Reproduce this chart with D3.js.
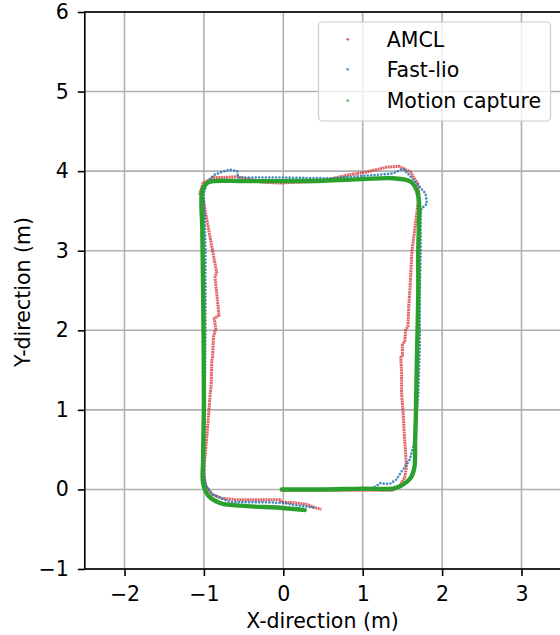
<!DOCTYPE html>
<html>
<head>
<meta charset="utf-8">
<script src="https://cdn.jsdelivr.net/npm/d3@7"></script>
<style>
  body { margin: 0; background: #fff; }
  svg text { font-family: "DejaVu Sans", sans-serif; fill: #000; }
</style>
</head>
<body>
<svg id="chart" width="560" height="635"></svg>
<script>
// tick labels
const xTicks = [-2, -1, 0, 1, 2, 3];
const yTicks = [-1, 0, 1, 2, 3, 4, 5, 6];

// trajectories, [x, y] in metres
const amcl = [[0.0,-0.01],[0.5,-0.01],[1.0,-0.01],[1.2,-0.01],[1.38,-0.01],[1.47,0.05],[1.53,0.15],[1.55,0.28],
  [1.54,0.46],[1.52,0.75],[1.51,0.96],[1.49,1.2],[1.49,1.46],[1.48,1.66],[1.50,1.68],[1.50,1.82],[1.53,1.86],
  [1.54,2.0],[1.57,2.05],[1.58,2.3],[1.60,2.6],[1.62,3.0],[1.66,3.3],[1.69,3.55],[1.71,3.72],[1.69,3.85],
  [1.6,3.99],[1.46,4.06],[1.30,4.05],[1.05,3.99],[0.8,3.95],[0.6,3.9],[0.4,3.87],[0.17,3.86],[-0.04,3.85],
  [-0.26,3.86],[-0.58,3.93],[-0.76,3.92],[-0.88,3.92],[-1.01,3.85],[-1.05,3.72],[-1.01,3.64],[-0.84,2.73],
  [-0.86,2.67],[-0.81,2.19],[-0.87,2.15],[-0.85,2.02],[-0.88,1.92],[-0.89,1.67],[-0.90,1.62],[-0.91,1.29],
  [-0.92,1.21],[-0.94,0.95],[-0.96,0.70],[-0.99,0.37],[-1.0,0.2],[-0.98,0.05],[-0.9,-0.06],[-0.78,-0.11],
  [-0.6,-0.13],[-0.3,-0.13],[-0.04,-0.13],[-0.02,-0.16],[0.17,-0.17],[0.3,-0.19],[0.37,-0.22],[0.48,-0.25]];

const fastlio = [[0.0,0.0],[0.6,0.0],[1.0,0.0],[1.12,0.02],[1.17,0.04],[1.22,0.08],[1.28,0.07],[1.34,0.07],
  [1.42,0.12],[1.5,0.24],[1.59,0.37],[1.64,0.55],[1.67,0.8],[1.70,1.2],[1.72,1.8],[1.72,2.5],[1.73,3.0],
  [1.73,3.45],[1.74,3.53],[1.81,3.59],[1.79,3.72],[1.72,3.80],[1.64,3.89],[1.51,4.03],[1.38,3.97],[1.0,3.94],
  [0.58,3.91],[-0.04,3.92],[-0.57,3.92],[-0.58,4.0],[-0.67,4.02],[-0.8,3.98],[-0.88,3.95],[-0.96,3.85],
  [-1.0,3.72],[-0.99,3.4],[-0.98,3.0],[-0.98,2.0],[-0.99,1.0],[-1.0,0.4],[-0.99,0.12],[-0.96,0.02],
  [-0.88,-0.07],[-0.8,-0.1],[-0.67,-0.16],[-0.26,-0.16],[0.0,-0.17],[0.17,-0.2],[0.4,-0.23]];

const mocap = [[-0.02,0.0],[0.5,0.0],[1.0,0.01],[1.38,0.01],[1.47,0.04],[1.6,0.14],[1.65,0.27],[1.66,0.6],
  [1.67,0.96],[1.68,1.5],[1.69,1.97],[1.70,2.5],[1.70,3.0],[1.71,3.4],[1.71,3.6],[1.68,3.76],[1.6,3.87],
  [1.38,3.91],[1.0,3.9],[0.5,3.88],[0.0,3.875],[-0.5,3.875],[-0.88,3.875],[-0.96,3.85],[-1.02,3.76],
  [-1.02,3.26],[-1.01,2.5],[-1.0,1.12],[-1.01,0.37],[-1.01,0.08],[-0.95,-0.07],[-0.8,-0.17],[-0.46,-0.21],
  [-0.04,-0.23],[0.27,-0.26]];

const seriesNames = ["AMCL", "Fast-lio", "Motion capture"];
const seriesColors = ["#d62728", "#1f77b4", "#2ca02c"];

const svg = d3.select("#chart");
const pl = 84.8, pr = 561.2, pt = 12, pb = 569;

const x = d3.scaleLinear().domain([-2.5, 3.5]).range([pl, pr]);
const y = d3.scaleLinear().domain([-1, 6]).range([pb, pt]);

svg.append("defs").append("clipPath").attr("id", "plot")
  .append("rect").attr("x", pl).attr("y", pt)
  .attr("width", pr - pl).attr("height", pb - pt);

// grid
const grid = svg.append("g").attr("stroke", "#b0b0b0").attr("stroke-width", 1.6);
grid.selectAll(".gx").data(xTicks).enter().append("line")
  .attr("x1", d => x(d)).attr("x2", d => x(d)).attr("y1", pt).attr("y2", pb);
grid.selectAll(".gy").data(yTicks).enter().append("line")
  .attr("y1", d => y(d)).attr("y2", d => y(d)).attr("x1", pl).attr("x2", pr);

const line = d3.line().x(d => x(d[0])).y(d => y(d[1]));
const smooth = d3.line().x(d => x(d[0])).y(d => y(d[1])).curve(d3.curveCatmullRom);

const plot = svg.append("g").attr("clip-path", "url(#plot)");

plot.append("path").datum(amcl)
  .attr("d", line)
  .attr("fill", "none")
  .attr("stroke", seriesColors[0])
  .attr("stroke-opacity", 0.72)
  .attr("stroke-width", 3)
  .attr("stroke-dasharray", "2 0.6");

plot.append("path").datum(fastlio)
  .attr("d", line)
  .attr("fill", "none")
  .attr("stroke", seriesColors[1])
  .attr("stroke-opacity", 0.85)
  .attr("stroke-width", 2.6)
  .attr("stroke-linecap", "round")
  .attr("stroke-dasharray", "0 3.4");

plot.append("path").datum(mocap)
  .attr("d", smooth)
  .attr("fill", "none")
  .attr("stroke", seriesColors[2])
  .attr("stroke-width", 4.4)
  .attr("stroke-linejoin", "round")
  .attr("stroke-linecap", "round");

// axes
const fmt = d3.format("d");
const xAxis = svg.append("g")
  .attr("transform", "translate(0," + pb + ")")
  .call(d3.axisBottom(x).tickValues(xTicks).tickFormat(fmt).tickSize(7).tickPadding(10).tickSizeOuter(0));
const yAxis = svg.append("g")
  .attr("transform", "translate(" + pl + ",0)")
  .call(d3.axisLeft(y).tickValues(yTicks).tickFormat(fmt).tickSize(7).tickPadding(9).tickSizeOuter(0));
[xAxis, yAxis].forEach(a => {
  a.select(".domain").remove();
  a.selectAll("line").attr("stroke", "#000").attr("stroke-width", 1.6);
  a.selectAll("text").attr("font-size", "20.5px").attr("font-family", "DejaVu Sans");
});

// spines
svg.append("rect").attr("x", pl).attr("y", pt)
  .attr("width", pr - pl).attr("height", pb - pt)
  .attr("fill", "none").attr("stroke", "#000").attr("stroke-width", 1.6);

svg.append("text").attr("x", (pl + pr) / 2 - 0.5).attr("y", 628)
  .attr("text-anchor", "middle").attr("font-size", "20.5px")
  .text("X-direction (m)");
svg.append("text").attr("transform", "translate(30," + 292 + ") rotate(-90)")
  .attr("text-anchor", "middle").attr("font-size", "20.5px")
  .text("Y-direction (m)");

// legend
const legend = svg.append("g");
legend.append("rect").attr("x", 318.5).attr("y", 22).attr("width", 232).attr("height", 99)
  .attr("rx", 4).attr("fill", "#fff").attr("fill-opacity", 0.8)
  .attr("stroke", "#cccccc").attr("stroke-width", 1.2);
const rows = [39.3, 69.3, 100.7];
seriesNames.forEach((name, i) => {
  legend.append("circle").attr("cx", 347.7).attr("cy", rows[i]).attr("r", 1.4)
    .attr("fill", seriesColors[i]).attr("fill-opacity", 0.7);
  legend.append("text").attr("x", 386.7).attr("y", rows[i] + 7.5)
    .attr("font-size", "20.5px").text(name);
});
</script>
</body>
</html>
